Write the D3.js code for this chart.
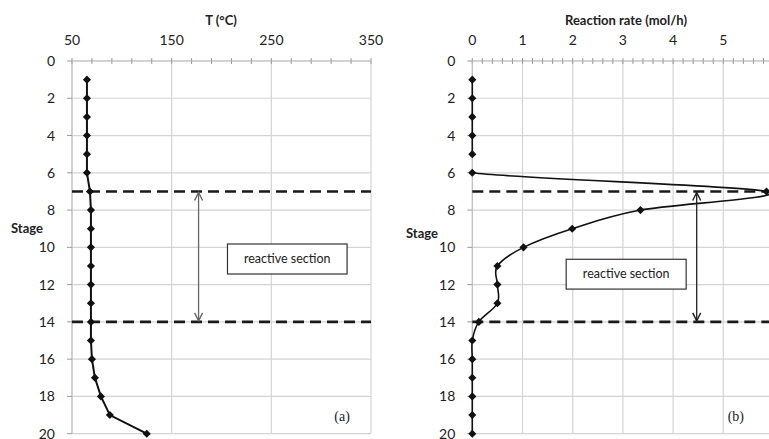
<!DOCTYPE html>
<html>
<head>
<meta charset="utf-8">
<script src="https://cdn.jsdelivr.net/npm/d3@7"></script>
<style>
  body { margin: 0; background: #fff; }
  svg { display: block; }
  text { font-family: Lato, "Open Sans", sans-serif; fill: #222; }
</style>
</head>
<body>
<div id="chart"></div>
<script>
// data
const stages = [1, 2, 3, 4, 5, 6, 7, 8, 9, 10, 11, 12, 13, 14, 15, 16, 17, 18, 19, 20];
const tempValues = [65, 65, 65, 65, 65, 65, 68, 69, 69, 69, 69, 69, 69, 69, 69, 70, 73, 79, 88, 125];
const rateValues = [0, 0, 0, 0, 0, 0, 5.86, 3.35, 1.99, 1.02, 0.5, 0.5, 0.5, 0.13, 0, 0, 0, 0, 0, 0];
const stageTicks = [0, 2, 4, 6, 8, 10, 12, 14, 16, 18, 20];
const tempTicks = [50, 150, 250, 350];
const rateTicks = [0, 1, 2, 3, 4, 5, 6];
const reactiveStart = 7;
const reactiveEnd = 14;

const width = 769, height = 439;
const svg = d3.select("#chart").append("svg")
  .attr("width", width)
  .attr("height", height);

// arrow heads
const defs = svg.append("defs");
const addMarker = (id, color) => {
  defs.append("marker")
    .attr("id", id)
    .attr("viewBox", "0 0 10 10")
    .attr("refX", 9).attr("refY", 5)
    .attr("markerWidth", 10).attr("markerHeight", 10)
    .attr("markerUnits", "userSpaceOnUse")
    .attr("orient", "auto-start-reverse")
    .append("path")
    .attr("d", "M1,1 L9,5 L1,9")
    .attr("fill", "none")
    .attr("stroke", color)
    .attr("stroke-width", 1.4);
};
addMarker("arrowA", "#666");
addMarker("arrowB", "#222");

const y = d3.scaleLinear().domain([0, 20]).range([61, 433.7]);

//function to draw one panel
const drawPanel = (cfg) => {
  const x = cfg.x;
  const g = svg.append("g");
  const [x0, x1] = x.range();
  const right = Math.min(x1, width);

  // grid
  g.selectAll(".hgrid").data(stageTicks).enter().append("line")
    .attr("x1", x0).attr("x2", right)
    .attr("y1", d => y(d)).attr("y2", d => y(d))
    .attr("stroke", "#d4d4d4").attr("stroke-width", 1.2);
  g.selectAll(".vgrid").data(cfg.ticks).enter().append("line")
    .attr("x1", d => x(d)).attr("x2", d => x(d))
    .attr("y1", y(0)).attr("y2", y(20))
    .attr("stroke", "#d4d4d4").attr("stroke-width", 1.2);

  // top axis with minor ticks
  g.append("line")
    .attr("x1", x0).attr("x2", right)
    .attr("y1", y(0)).attr("y2", y(0))
    .attr("stroke", "#bdbdbd");
  g.selectAll(".minor").data(cfg.minor).enter().append("line")
    .attr("x1", d => x(d)).attr("x2", d => x(d))
    .attr("y1", y(0) - 3).attr("y2", y(0) + 3)
    .attr("stroke", "#9a9a9a");
  g.selectAll(".xlab").data(cfg.ticks).enter().append("text")
    .attr("x", d => x(d)).attr("y", 45)
    .attr("text-anchor", "middle")
    .attr("font-size", 14)
    .text(d => d);
  g.append("text")
    .attr("x", cfg.titleX).attr("y", 25)
    .attr("text-anchor", "middle")
    .attr("font-size", 13).attr("font-weight", "bold")
    .text(cfg.title);

  // left axis
  g.append("line")
    .attr("x1", x0).attr("x2", x0)
    .attr("y1", y(0)).attr("y2", y(20))
    .attr("stroke", "#bdbdbd");
  g.selectAll(".ytick").data(stageTicks).enter().append("line")
    .attr("x1", x0 - 5).attr("x2", x0)
    .attr("y1", d => y(d)).attr("y2", d => y(d))
    .attr("stroke", "#9a9a9a");
  g.selectAll(".ylab").data(stageTicks).enter().append("text")
    .attr("x", x0 - 17).attr("y", d => y(d) + 5)
    .attr("text-anchor", "end")
    .attr("font-size", 14)
    .text(d => d);
  g.append("text")
    .attr("x", cfg.stageX).attr("y", cfg.stageY)
    .attr("font-size", 13).attr("font-weight", "bold")
    .text("Stage");

  // dashed section bounds
  g.selectAll(".bound").data([reactiveStart, reactiveEnd]).enter().append("line")
    .attr("x1", x0).attr("x2", right)
    .attr("y1", d => y(d)).attr("y2", d => y(d))
    .attr("stroke", "#1a1a1a").attr("stroke-width", 2.6)
    .attr("stroke-dasharray", "11,6");

  // data line, clipped to plot area
  const clipId = "clip-" + cfg.name;
  defs.append("clipPath").attr("id", clipId)
    .append("rect")
    .attr("x", x0 - 1.5).attr("y", y(0))
    .attr("width", right - x0 + 1.5).attr("height", y(20) - y(0) + 6);
  const pts = stages.map((s, i) => [x(cfg.values[i]), y(s)]);
  g.append("path")
    .attr("clip-path", "url(#" + clipId + ")")
    .attr("d", d3.line().curve(cfg.curve)(pts))
    .attr("fill", "none")
    .attr("stroke", "#111")
    .attr("stroke-width", cfg.lineWidth);
  g.selectAll(".pt").data(pts).enter().append("path")
    .attr("d", d3.symbol(d3.symbolDiamond2, 42)())
    .attr("transform", d => "translate(" + d[0] + "," + d[1] + ")")
    .attr("fill", "#111");

  // arrow between bounds
  g.append("line")
    .attr("x1", x(cfg.arrowAt)).attr("x2", x(cfg.arrowAt))
    .attr("y1", y(reactiveStart) + 1).attr("y2", y(reactiveEnd) - 1)
    .attr("stroke", cfg.arrowColor).attr("stroke-width", 1.3)
    .attr("marker-start", "url(#" + cfg.marker + ")")
    .attr("marker-end", "url(#" + cfg.marker + ")");

  // label box
  const bx = x(cfg.box[0]), bw = x(cfg.box[1]) - bx;
  const by = y(cfg.box[2]), bh = y(cfg.box[3]) - by;
  g.append("rect")
    .attr("x", bx).attr("y", by).attr("width", bw).attr("height", bh)
    .attr("fill", "#fff").attr("stroke", "#333").attr("stroke-width", 1.2);
  g.append("text")
    .attr("x", bx + bw / 2).attr("y", by + bh / 2 + 4)
    .attr("text-anchor", "middle")
    .attr("font-size", 12.5)
    .text("reactive section");

  g.append("text")
    .attr("x", x(cfg.tag[0])).attr("y", y(cfg.tag[1]))
    .attr("text-anchor", "middle")
    .attr("font-size", 14)
    .style("font-family", "'Liberation Serif', serif")
    .text(cfg.tagText);
};

drawPanel({
  name: "a",
  x: d3.scaleLinear().domain([50, 350]).range([72, 371]),
  ticks: tempTicks,
  minor: d3.range(50, 351, 20),
  title: "T (°C)",
  titleX: 221,
  stageX: 11, stageY: 233,
  values: tempValues,
  curve: d3.curveLinear,
  lineWidth: 2,
  arrowAt: 177,
  arrowColor: "#666",
  marker: "arrowA",
  box: [206, 326, 9.82, 11.43],
  tag: [321, 19.3],
  tagText: "(a)"
});

drawPanel({
  name: "b",
  x: d3.scaleLinear().domain([0, 6]).range([472.3, 773.5]),
  ticks: rateTicks,
  minor: d3.range(0, 6.01, 0.2),
  title: "Reaction rate (mol/h)",
  titleX: 626,
  stageX: 406, stageY: 238,
  values: rateValues,
  curve: d3.curveCardinal.tension(0),
  lineWidth: 1.6,
  arrowAt: 4.47,
  arrowColor: "#222",
  marker: "arrowB",
  box: [1.87, 4.26, 10.64, 12.24],
  tag: [5.25, 19.3],
  tagText: "(b)"
});
</script>
</body>
</html>
